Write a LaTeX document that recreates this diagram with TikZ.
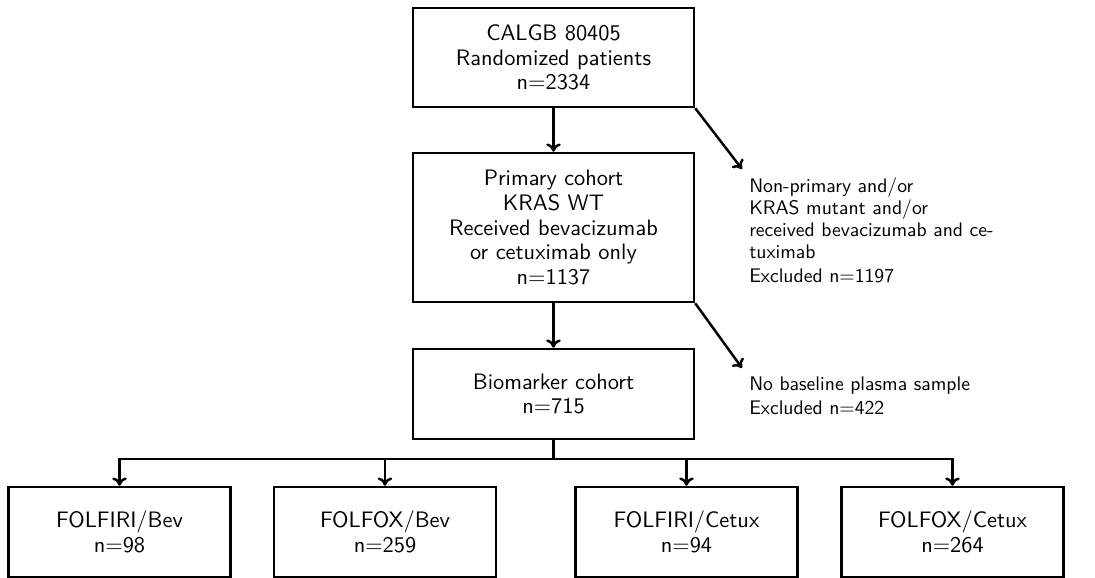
\documentclass[tikz,border=0pt]{standalone}
\usepackage{amsmath}
\usepackage{tikz}
\usetikzlibrary{arrows.meta,positioning}
\renewcommand{\familydefault}{\sfdefault}

\begin{document}
\begin{tikzpicture}[x=0.483pt,y=-0.483pt,>={To[length=4pt,width=7pt]},line width=1.2pt,
box/.style={draw,align=center,minimum width=135.7pt,inner sep=0pt,font=\fontsize{10.8}{12}\selectfont},
arm/.style={box,minimum width=107.2pt,minimum height=43.5pt},
note/.style={anchor=north west,align=left,font=\fontsize{9.5}{10.5}\selectfont,inner sep=0pt}]
\useasboundingbox(0,0)rectangle(1095,578);
\node[box,minimum height=47.8pt](rand)at(553.5,57.5){CALGB 80405\\Randomized patients\\n=2334};
\node[box,minimum height=72pt](prim)at(553.5,227.5){Primary cohort\\KRAS WT\\Received bevacizumab\\or cetuximab only\\n=1137};
\node[box,minimum height=43.5pt](bio)at(553.5,394){Biomarker cohort\\n=715};
\node[arm](fbev)at(119.5,532){FOLFIRI/Bev\\n=98};
\node[arm](xbev)at(385,532){FOLFOX/Bev\\n=259};
\node[arm](fcet)at(686.5,532){FOLFIRI/Cetux\\n=94};
\node[arm](xcet)at(952.5,532){FOLFOX/Cetux\\n=264};
\node[note](exone)at(748,177){Non-primary and/or\\KRAS mutant and/or\\received bevacizumab and ce-\\tuximab\\[1pt]Excluded n=1197};
\node[note](extwo)at(748,376){No baseline plasma sample\\[1pt]Excluded n=422};
\coordinate(cone)at(742,169);
\coordinate(ctwo)at(742,368);
\coordinate(split)at(553.5,459);
\draw[->](rand)--(prim);
\draw[->](prim)--(bio);
\draw[->](rand.south east)--(cone);
\draw[->](prim.south east)--(ctwo);
\draw(bio)--(split);
\draw[->](split)-|(fbev);
\draw[->](split)-|(xbev);
\draw[->](split)-|(fcet);
\draw[->](split)-|(xcet);
\end{tikzpicture}
\end{document}
